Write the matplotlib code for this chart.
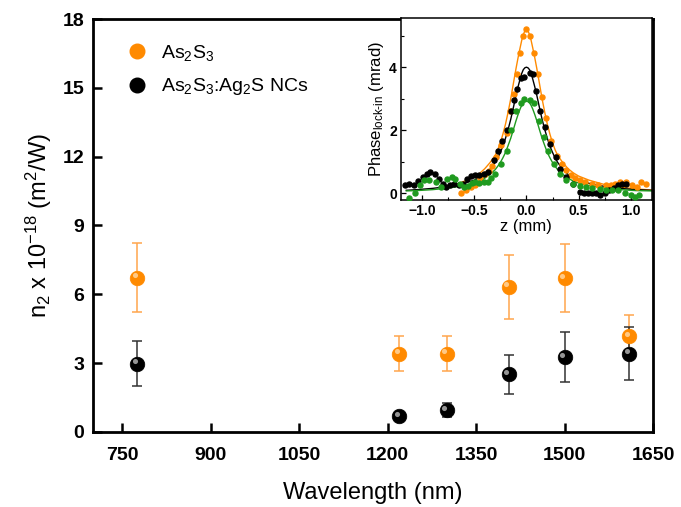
import numpy as np
import matplotlib
matplotlib.use("Agg")
import matplotlib.pyplot as plt
from matplotlib.lines import Line2D
from matplotlib.transforms import offset_copy

plt.rcParams['font.family'] = ['Liberation Sans', 'DejaVu Sans']
plt.rcParams['mathtext.fontset'] = 'custom'
plt.rcParams['mathtext.rm'] = 'Liberation Sans'
plt.rcParams['mathtext.it'] = 'Liberation Sans:italic'
plt.rcParams['mathtext.bf'] = 'Liberation Sans:bold'

# main data: n2 vs wavelength
wl = [775, 1220, 1300, 1405, 1500, 1610]
n2_as2s3 = [6.73, 3.42, 3.42, 6.32, 6.71, 4.17]
err_as2s3 = [1.5, 0.78, 0.78, 1.4, 1.5, 0.92]
n2_nc = [2.98, 0.68, 0.95, 2.51, 3.25, 3.42]
err_nc = [0.99, 0.0, 0.3, 0.84, 1.09, 1.17]

# inset: z-scan data points
z_or = [-0.63, -0.58, -0.53, -0.49, -0.44, -0.40, -0.36, -0.33, -0.29, -0.24, -0.19,
        -0.16, -0.12, -0.09, -0.06, -0.035, 0.0, 0.03, 0.07, 0.11, 0.15, 0.19, 0.24,
        0.29, 0.34, 0.38, 0.43, 0.47, 0.51, 0.56, 0.63, 0.69, 0.76, 0.81, 0.85, 0.90,
        0.95, 1.01, 1.06, 1.10, 1.15]
ph_or = [0.0, 0.1, 0.2, 0.26, 0.5, 0.62, 0.72, 0.86, 1.15, 1.52, 1.9,
         2.6, 3.14, 3.77, 4.45, 5.0, 5.2, 5.0, 4.45, 3.77, 3.04, 2.4, 1.67,
         1.2, 0.94, 0.73, 0.58, 0.5, 0.42, 0.36, 0.31, 0.28, 0.26, 0.28, 0.31, 0.35,
         0.37, 0.26, 0.22, 0.37, 0.31]
z_bk = [-1.16, -1.12, -1.08, -1.04, -0.99, -0.95, -0.92, -0.88, -0.84, -0.80, -0.77,
        -0.73, -0.69, -0.65, -0.61, -0.57, -0.53, -0.49, -0.45, -0.41, -0.37, -0.31,
        -0.27, -0.23, -0.19, -0.15, -0.12, -0.09, -0.05, -0.02, 0.03, 0.06, 0.09, 0.13,
        0.18, 0.23, 0.28, 0.32, 0.38, 0.45, 0.51, 0.55, 0.59, 0.63, 0.67, 0.70, 0.75,
        0.79, 0.84, 0.88, 0.92, 0.95]
ph_bk = [0.26, 0.3, 0.26, 0.38, 0.52, 0.62, 0.68, 0.63, 0.45, 0.3, 0.21,
         0.26, 0.3, 0.26, 0.3, 0.45, 0.55, 0.6, 0.58, 0.62, 0.68, 1.05,
         1.36, 1.65, 2.0, 2.6, 2.95, 3.3, 3.66, 3.7, 3.8, 3.77, 3.25, 2.6,
         2.1, 1.57, 1.15, 0.78, 0.52, 0.31, 0.05, 0.0, 0.02, 0.02, 0.0, -0.05, 0.02,
         0.1, 0.18, 0.26, 0.3, 0.31]
z_gr = [-1.12, -1.07, -1.02, -0.98, -0.93, -0.87, -0.82, -0.76, -0.71, -0.68, -0.64,
        -0.60, -0.56, -0.52, -0.49, -0.45, -0.41, -0.37, -0.34, -0.30, -0.24, -0.19,
        -0.15, -0.10, -0.05, -0.02, 0.03, 0.07, 0.12, 0.17, 0.21, 0.26, 0.32, 0.38,
        0.45, 0.51, 0.57, 0.63, 0.70, 0.76, 0.82, 0.88, 0.94, 1.0, 1.04, 1.08]
ph_gr = [-0.16, 0.0, 0.26, 0.42, 0.42, 0.37, 0.21, 0.47, 0.52, 0.47, 0.3,
         0.22, 0.25, 0.32, 0.37, 0.33, 0.35, 0.37, 0.5, 0.63, 0.94, 1.36,
         2.0, 2.6, 2.88, 2.98, 2.95, 2.88, 2.3, 1.78, 1.36, 0.94, 0.63, 0.42,
         0.31, 0.25, 0.21, 0.17, 0.15, 0.1, 0.12, 0.1, 0.02, -0.05, -0.1, -0.05]

# inset: fit curves
zf = [-1.15, -1.05, -0.9, -0.75, -0.65, -0.6, -0.5, -0.45, -0.4, -0.35, -0.3, -0.275,
      -0.25, -0.225, -0.2, -0.175, -0.15, -0.125, -0.1, -0.08, -0.06, -0.045, -0.03,
      -0.015, 0.0, 0.015, 0.03, 0.045, 0.06, 0.08, 0.1, 0.125, 0.15, 0.175, 0.2,
      0.225, 0.25, 0.275, 0.3, 0.35, 0.4, 0.45, 0.5, 0.6, 0.75, 0.9, 1.05, 1.2]
fit_or = [np.nan, np.nan, np.nan, np.nan, 0.32, 0.38, 0.52, 0.63, 0.78, 0.97, 1.2, 1.38,
          1.6, 1.88, 2.2, 2.58, 3.0, 3.48, 3.95, 4.3, 4.62, 4.85, 5.03,
          5.15, 5.2, 5.15, 5.03, 4.85, 4.62, 4.3, 3.95, 3.48, 3.0, 2.58, 2.2,
          1.88, 1.6, 1.38, 1.2, 0.97, 0.78, 0.65, 0.55, 0.42, 0.28, 0.2, 0.14, 0.11]
fit_bk = [0.1, 0.12, 0.16, 0.22, 0.28, 0.32, 0.42, 0.5, 0.6, 0.76, 0.98, 1.12,
          1.3, 1.5, 1.75, 2.03, 2.35, 2.72, 3.1, 3.38, 3.63, 3.8, 3.92,
          3.98, 4.0, 3.98, 3.92, 3.8, 3.63, 3.38, 3.1, 2.72, 2.35, 2.03, 1.75,
          1.5, 1.3, 1.12, 0.98, 0.76, 0.6, 0.5, 0.42, 0.32, 0.22, 0.16, 0.12, 0.1]
fit_gr = [0.08, 0.09, 0.12, 0.17, 0.22, 0.25, 0.33, 0.39, 0.48, 0.6, 0.75, 0.86,
          0.98, 1.13, 1.3, 1.52, 1.75, 2.02, 2.3, 2.5, 2.68, 2.79, 2.87,
          2.91, 2.92, 2.91, 2.87, 2.79, 2.68, 2.5, 2.3, 2.02, 1.75, 1.52, 1.3,
          1.13, 0.98, 0.86, 0.75, 0.6, 0.48, 0.39, 0.33, 0.25, 0.17, 0.12, 0.09, 0.08]

ORANGE = '#ff8a00'
ORANGE_ERR = '#ffa64d'
GREEN = '#1f9a1f'

fig = plt.figure(figsize=(6.81, 5.07), dpi=100)
ax = fig.add_axes([0.136, 0.148, 0.823, 0.8145])


def spheres(ax, x, y, col, hl, ms, z):
    ax.plot(x, y, 'o', ms=ms, mfc=col, mec=col, mew=0.5, ls='none', zorder=z)
    tr = offset_copy(ax.transData, fig=ax.figure, x=-1.6, y=1.8, units='points')
    ax.plot(x, y, 'o', ms=ms * 0.35, mfc=hl, mec='none', alpha=0.8,
            ls='none', zorder=z + 0.1, transform=tr)


ax.errorbar(wl, n2_as2s3, yerr=err_as2s3, fmt='none', ecolor=ORANGE_ERR,
            elinewidth=1.1, capsize=3.5, capthick=1.1, zorder=2)
ax.errorbar(wl, n2_nc, yerr=err_nc, fmt='none', ecolor='#333333',
            elinewidth=1.1, capsize=3.5, capthick=1.1, zorder=2)
spheres(ax, wl, n2_as2s3, ORANGE, '#ffd9a8', 10.5, 3)
spheres(ax, wl, n2_nc, 'black', '#bbbbbb', 10.5, 4)

ax.set_xlim(700, 1650)
ax.set_ylim(0, 18)
ax.set_xticks([750, 900, 1050, 1200, 1350, 1500, 1650])
ax.set_yticks([0, 3, 6, 9, 12, 15, 18])
ax.tick_params(axis='both', direction='in', length=6.5, width=1.8, labelsize=14)
ax.tick_params(axis='x', pad=11)
ax.tick_params(axis='y', pad=6)
for lab in ax.get_xticklabels() + ax.get_yticklabels():
    lab.set_fontweight('bold')
for sp in ax.spines.values():
    sp.set_linewidth(2.0)
ax.set_xlabel('Wavelength (nm)', fontsize=17, labelpad=13)
ax.set_ylabel('n$_2$ x 10$^{-18}$ (m$^2$/W)', fontsize=17, labelpad=6)

handles = [Line2D([], [], marker='o', ls='none', ms=10.5, mfc=ORANGE, mec=ORANGE),
           Line2D([], [], marker='o', ls='none', ms=10.5, mfc='black', mec='black')]
ax.legend(handles, ['As$_2$S$_3$', 'As$_2$S$_3$:Ag$_2$S NCs'], loc='upper left',
          bbox_to_anchor=(0.03, 0.985), frameon=False, fontsize=14,
          handletextpad=0.75, labelspacing=0.7, handlelength=1.0)

# inset
ins = fig.add_axes([0.589, 0.606, 0.368, 0.358])
ins.plot(zf, fit_or, '-', color=ORANGE, lw=1.0, zorder=2)
ins.plot(zf, fit_bk, '-', color='black', lw=1.0, zorder=2)
ins.plot(zf, fit_gr, '-', color=GREEN, lw=1.0, zorder=2)
ins.plot(z_or, ph_or, 'o', ms=3.6, color=ORANGE, mec=ORANGE, zorder=3)
ins.plot(z_bk, ph_bk, 'o', ms=3.6, color='black', zorder=3)
ins.plot(z_gr, ph_gr, 'o', ms=3.6, color=GREEN, mec=GREEN, zorder=3)
ins.set_xlim(-1.2, 1.2)
ins.set_ylim(-0.2, 5.55)
ins.set_xticks([-1.0, -0.5, 0.0, 0.5, 1.0])
ins.set_xticks([-0.75, -0.25, 0.25, 0.75], minor=True)
ins.set_yticks([0, 2, 4])
ins.set_yticks([1, 3, 5], minor=True)
ins.tick_params(which='major', direction='in', length=3.5, width=0.9, labelsize=10, pad=3)
ins.tick_params(which='minor', direction='in', length=2, width=0.8)
for lab in ins.get_xticklabels() + ins.get_yticklabels():
    lab.set_fontweight('bold')
for sp in ins.spines.values():
    sp.set_linewidth(1.1)
ins.set_xlabel('z (mm)', fontsize=12, labelpad=1)
ins.set_ylabel('Phase$_{\\mathrm{lock\\text{-}in}}$ (mrad)', fontsize=12, labelpad=2)

fig.savefig('out.png', dpi=100)
